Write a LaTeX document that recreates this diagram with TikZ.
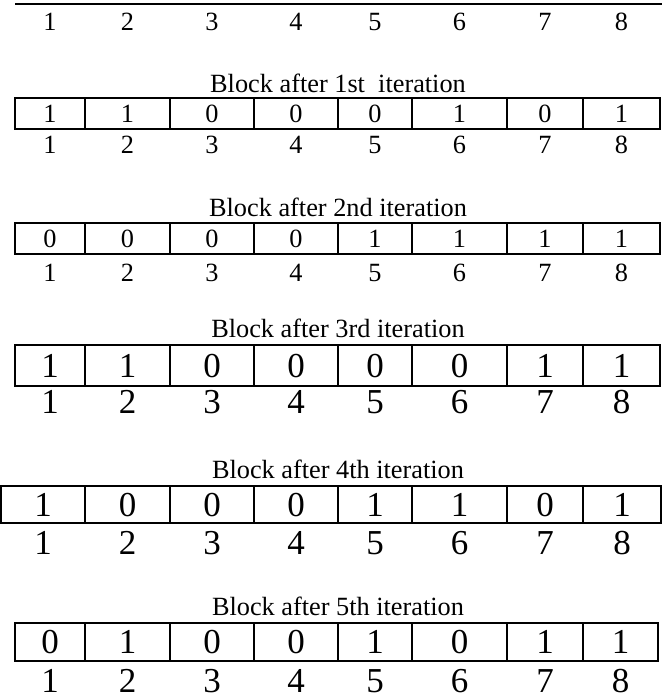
\documentclass[tikz,border=0pt]{standalone}
\usepackage{fontspec}
\setmainfont{Liberation Serif}
\usepackage{tikz}
\usetikzlibrary{positioning}
\tikzset{
    cell/.style={
        draw,
        line width=2pt,
        inner sep=0pt,
        text depth=0pt,
        anchor=center
    },
    idx/.style={inner sep=0pt, text depth=0pt, anchor=center},
    small/.style={font=\smallnum, text height=17.8pt},
    big/.style={font=\bignum, text height=23.7pt},
    caption/.style={inner sep=0pt, anchor=base, font=\smallnum},
    rule/.style={line width=2pt}
}
\newcommand{\smallnum}{\fontsize{26.3}{30}\selectfont}
\newcommand{\bignum}{\fontsize{35}{40}\selectfont}

\begin{document}
\begin{tikzpicture}[x=1pt, y=-1pt]
        \useasboundingbox (0,0) rectangle (662,695);

        % tail of the previous block
        \draw[rule] (15,4) -- (662,4);
        \foreach \a/\b [count=\i] in {15/85, 85/170, 170/254, 254/338, 338/412, 412/507, 507/583, 583/660}
            \node[idx, small] (n0\i) at ({(\a+\b)/2},22) {\i};

        % block after 1st iteration
        \node[caption] (cap1) at (338,93) {Block after 1st\ \ iteration};
        \foreach \a/\b/\v [count=\i] in {15/85/1, 85/170/1, 170/254/0, 254/338/0, 338/412/0, 412/507/1, 507/583/0, 583/660/1} {
            \node[cell, small, minimum width={(\b-\a)*1pt}, minimum height=31pt] (b1c\i) at ({(\a+\b)/2},113.5) {\v};
            \node[idx, small] (n1\i) at ({(\a+\b)/2},145) {\i};
        }

        % block after 2nd iteration
        \node[caption] (cap2) at (338,216) {Block after 2nd iteration};
        \foreach \a/\b/\v [count=\i] in {15/85/0, 85/170/0, 170/254/0, 254/338/0, 338/412/1, 412/507/1, 507/583/1, 583/660/1} {
            \node[cell, small, minimum width={(\b-\a)*1pt}, minimum height=31pt] (b2c\i) at ({(\a+\b)/2},238.5) {\v};
            \node[idx, small] (n2\i) at ({(\a+\b)/2},272.5) {\i};
        }

        % block after 3rd iteration
        \node[caption] (cap3) at (338,337) {Block after 3rd iteration};
        \foreach \a/\b/\v [count=\i] in {15/85/1, 85/170/1, 170/254/0, 254/338/0, 338/412/0, 412/507/0, 507/583/1, 583/660/1} {
            \node[cell, big, minimum width={(\b-\a)*1pt}, minimum height=41pt] (b3c\i) at ({(\a+\b)/2},365.5) {\v};
            \node[idx, big] (n3\i) at ({(\a+\b)/2},402) {\i};
        }

        % block after 4th iteration
        \node[caption] (cap4) at (338,478) {Block after 4th iteration};
        \foreach \a/\b/\v [count=\i] in {1/85/1, 85/170/0, 170/254/0, 254/338/0, 338/412/1, 412/507/1, 507/583/0, 583/661/1} {
            \node[cell, big, minimum width={(\b-\a)*1pt}, minimum height=37pt] (b4c\i) at ({(\a+\b)/2},504.5) {\v};
            \node[idx, big] (n4\i) at ({(\a+\b)/2},543) {\i};
        }

        % block after 5th iteration
        \node[caption] (cap5) at (338,615) {Block after 5th iteration};
        \foreach \a/\b/\v [count=\i] in {15/85/0, 85/170/1, 170/254/0, 254/338/0, 338/412/1, 412/507/0, 507/583/1, 583/658/1} {
            \node[cell, big, minimum width={(\b-\a)*1pt}, minimum height=38pt] (b5c\i) at ({(\a+\b)/2},641.5) {\v};
            \node[idx, big] (n5\i) at ({(\a+\b)/2},681) {\i};
        }
    \end{tikzpicture}
\end{document}
